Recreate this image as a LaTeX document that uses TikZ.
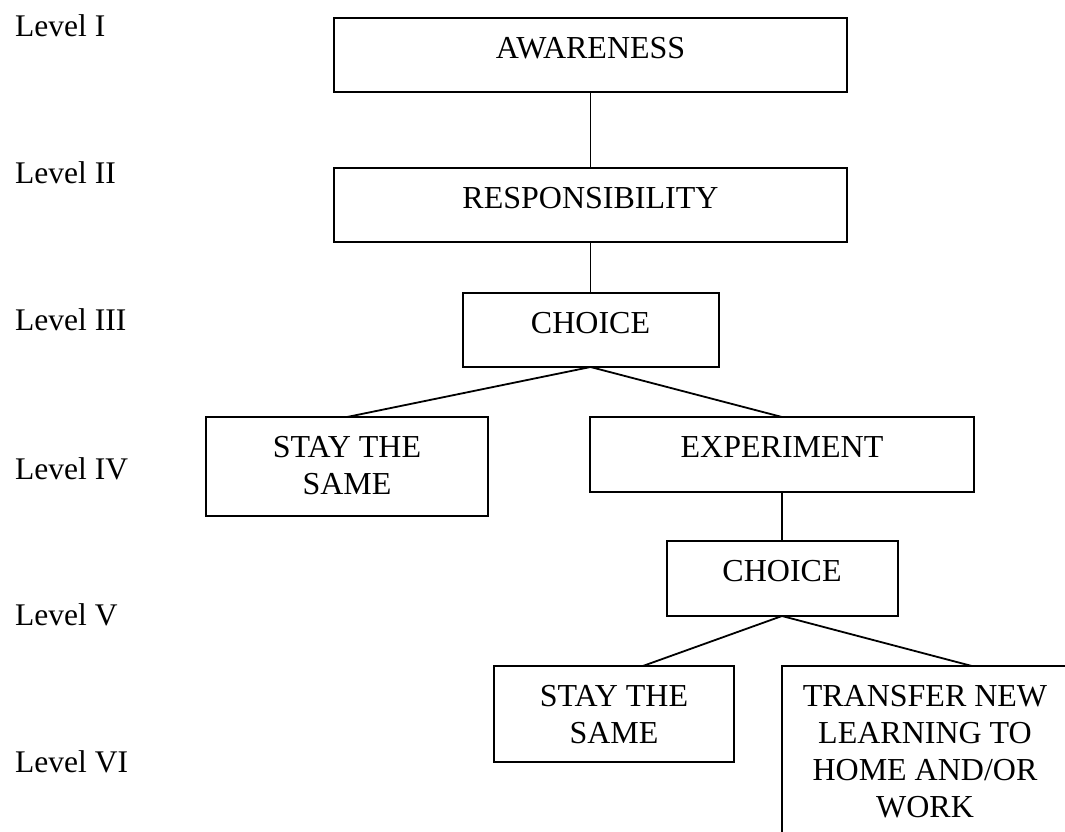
\documentclass[tikz,border=0pt]{standalone}
\usepackage{fontspec}
\setmainfont{Liberation Serif}
\usetikzlibrary{calc}
\newcommand\boxtxt[3]{\parbox[c][#2][t]{#1}{\fontsize{32pt}{37pt}\selectfont\centering\rule{0pt}{40pt}#3}}
\tikzset{
  box/.style={draw, line width=2pt, inner sep=0pt, outer sep=0pt, rectangle},
  conn/.style={line width=1.8pt},
  lvl/.style={anchor=base west, inner sep=0pt, font=\fontsize{31.5pt}{37pt}\selectfont}
}
\begin{document}
\begin{tikzpicture}[x=1pt, y=-1pt]
\useasboundingbox (0,0) rectangle (1065,831);
\clip (0,0) rectangle (1065,831);
% level labels
\node[lvl] (l1) at (15,36) {Level I};
\node[lvl] (l2) at (15,183) {Level II};
\node[lvl] (l3) at (15,330) {Level III};
\node[lvl] (l4) at (15,479) {Level IV};
\node[lvl] (l5) at (15,625) {Level V};
\node[lvl] (l6) at (15,772) {Level VI};
% boxes
\node[box] (aw) at (590.5,55) {\boxtxt{513pt}{74pt}{AWARENESS}};
\node[box] (resp) at (590.5,205) {\boxtxt{513pt}{74pt}{RESPONSIBILITY}};
\node[box] (ch1) at (590.5,330) {\boxtxt{256pt}{74pt}{CHOICE}};
\node[box] (stay1) at (347,466.5) {\boxtxt{282pt}{99pt}{STAY THE\\SAME}};
\node[box] (exp) at (782,454.5) {\boxtxt{384pt}{75pt}{EXPERIMENT}};
\node[box] (ch2) at (782,578.5) {\boxtxt{231pt}{75pt}{CHOICE}};
\node[box] (stay2) at (614,714) {\boxtxt{240pt}{96pt}{STAY THE\\SAME}};
\node[box] (trans) at (925,766) {\boxtxt{286pt}{200pt}{TRANSFER NEW\\LEARNING TO\\HOME AND/OR\\WORK}};
% connectors
\draw[conn] (aw.south) -- (resp.north);
\draw[conn] (resp.south) -- (ch1.north);
\draw[conn] (ch1.south) -- (stay1.north);
\draw[conn] (ch1.south) -- (exp.north);
\draw[conn] (exp.south) -- (ch2.north);
\draw[conn] (ch2.south) -- ($(stay2.north west)!0.62!(stay2.north east)$);
\draw[conn] (ch2.south) -- ($(trans.north west)!0.664!(trans.north east)$);
\end{tikzpicture}
\end{document}
